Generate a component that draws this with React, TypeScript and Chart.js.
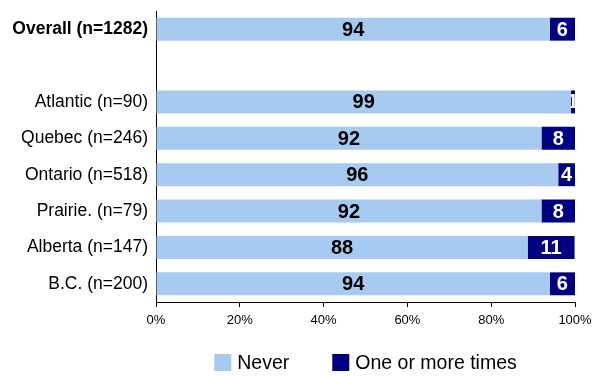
import React, { useEffect, useRef } from "react";
import { Chart, registerables } from "chart.js";

Chart.register(...registerables);

const categories = [
  "Overall (n=1282)",
  "",
  "Atlantic (n=90)",
  "Quebec (n=246)",
  "Ontario (n=518)",
  "Prairie. (n=79)",
  "Alberta (n=147)",
  "B.C. (n=200)",
];
const neverValues: (number | null)[] = [94, null, 99, 92, 96, 92, 88.7, 94];
const oneOrMoreValues: (number | null)[] = [6, null, 1, 8, 4, 8, 11.2, 6];
const seriesNames = ["Never", "One or more times"];
const seriesColors = ["#A6CAF0", "#000080"];
const labelColors = ["#000000", "#FFFFFF"];
const xTickStep = 20;

const FONT = '"Liberation Sans", Arial, sans-serif';

const barLabelPlugin = {
  id: "barLabels",
  afterDatasetsDraw(chart: any) {
    const ctx = chart.ctx;
    chart.data.datasets.forEach((ds: any, di: number) => {
      const meta = chart.getDatasetMeta(di);
      meta.data.forEach((bar: any, i: number) => {
        const v = ds.data[i];
        if (v == null) return;
        const { x, y, base, height } = bar.getProps(["x", "y", "base", "height"], true);
        const left = Math.min(x, base);
        const right = Math.max(x, base);
        ctx.save();
        ctx.beginPath();
        ctx.rect(left, y - height / 2, right - left, height);
        ctx.clip();
        ctx.fillStyle = labelColors[di];
        ctx.font = `bold 20px ${FONT}`;
        ctx.textAlign = "center";
        ctx.textBaseline = "middle";
        ctx.fillText(String(Math.floor(v)), (left + right) / 2, y + 1);
        ctx.restore();
      });
    });
  },
};

const legendPlugin = {
  id: "customLegend",
  afterDraw(chart: any) {
    const ctx = chart.ctx;
    const area = chart.chartArea;
    ctx.save();
    ctx.font = `19.5px ${FONT}`;
    const box = 17;
    const gap = 6;
    const spacing = 43;
    const widths = seriesNames.map((n) => ctx.measureText(n).width);
    const total = widths.reduce((a, w) => a + box + gap + w, 0) + spacing * (seriesNames.length - 1);
    let x = (area.left + area.right) / 2 - total / 2;
    const yTop = 354;
    seriesNames.forEach((name, i) => {
      ctx.fillStyle = seriesColors[i];
      ctx.fillRect(x, yTop, box, box);
      ctx.fillStyle = "#000";
      ctx.textAlign = "left";
      ctx.textBaseline = "middle";
      ctx.fillText(name, x + box + gap, yTop + box / 2 + 1);
      x += box + gap + widths[i] + spacing;
    });
    ctx.restore();
  },
};

export default function App() {
  const ref = useRef<HTMLCanvasElement | null>(null);

  useEffect(() => {
    document.body.style.margin = "0";
    if (!ref.current) return;
    const chart = new Chart(ref.current, {
      type: "bar",
      data: {
        labels: categories,
        datasets: [
          {
            label: seriesNames[0],
            data: neverValues,
            backgroundColor: seriesColors[0],
            borderWidth: 0,
            barPercentage: 0.63,
            categoryPercentage: 1,
          },
          {
            label: seriesNames[1],
            data: oneOrMoreValues,
            backgroundColor: seriesColors[1],
            borderWidth: 0,
            barPercentage: 0.63,
            categoryPercentage: 1,
          },
        ],
      },
      options: {
        indexAxis: "y",
        responsive: false,
        animation: false,
        devicePixelRatio: 1,
        layout: { padding: { top: 11, right: 17, left: 0, bottom: 0 } },
        plugins: {
          legend: { display: false },
          tooltip: { enabled: false },
        },
        scales: {
          x: {
            type: "linear",
            stacked: true,
            min: 0,
            max: 100,
            ticks: {
              stepSize: xTickStep,
              callback: (v: any) => v + "%",
              color: "#000",
              font: { size: 13, family: FONT },
              padding: 6,
              maxRotation: 0,
            },
            grid: {
              drawOnChartArea: false,
              drawTicks: true,
              tickLength: 5,
              color: "#000",
            },
            border: { display: true, color: "#000", width: 1 },
            afterFit: (s: any) => {
              s.height = 74;
              s.paddingLeft = 0;
              s.paddingRight = 0;
            },
          },
          y: {
            stacked: true,
            grid: { display: false },
            border: { display: true, color: "#000", width: 1 },
            ticks: {
              color: "#000",
              padding: 0,
              font: (c: any) => ({
                size: 17.5,
                family: FONT,
                weight: c.index === 0 ? "bold" : "normal",
              }),
            },
            afterFit: (s: any) => {
              s.width = 156;
              s.paddingTop = 0;
              s.paddingBottom = 0;
            },
          },
        },
      } as any,
      plugins: [barLabelPlugin, legendPlugin],
    });
    return () => chart.destroy();
  }, []);

  return (
    <div style={{ width: 592, height: 376, background: "#fff" }}>
      <canvas ref={ref} width={592} height={376} style={{ display: "block" }} />
    </div>
  );
}
